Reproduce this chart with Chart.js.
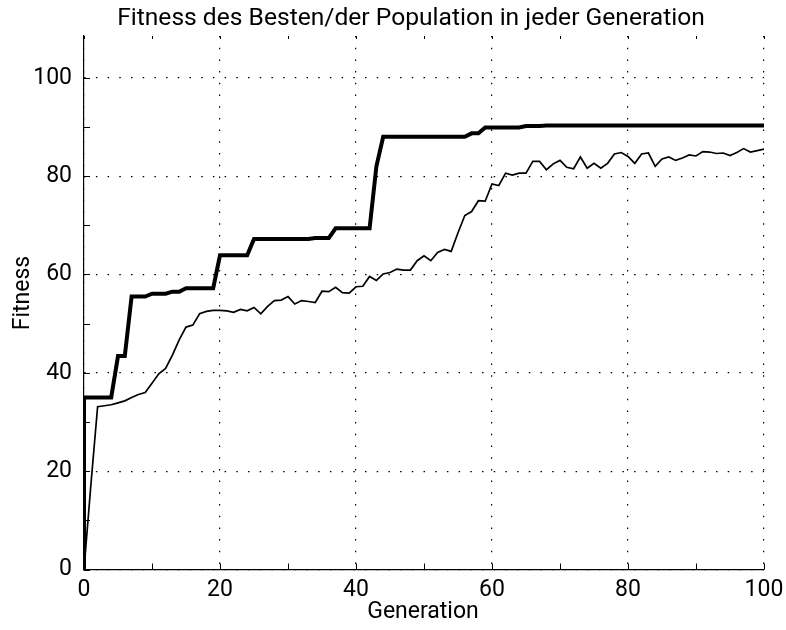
<!DOCTYPE html>
<html>
<head>
<meta charset="utf-8">
<script src="https://cdn.jsdelivr.net/npm/chart.js@4.4.1/dist/chart.umd.min.js"></script>
<style>
  html, body { margin: 0; padding: 0; background: #fff; }
</style>
</head>
<body>
<canvas id="fitChart" width="786" height="630"></canvas>
<script>
/* Fitness chart: best vs. population per generation */
const TITLE = 'Fitness des Besten/der Population in jeder Generation';
const X_TITLE = 'Generation';
const Y_TITLE = 'Fitness';

const xTicks = [0, 20, 40, 60, 80, 100];
const yTicks = [0, 20, 40, 60, 80, 100];
const xMinor = [10, 30, 50, 70, 90];
const yMinor = [10, 30, 50, 70, 90];

// fitness before the first generation
const startFitness = 0;

// best individual, generation 0..100
const bestFitness = [
  35, 35, 35, 35, 35, 43.4, 43.4, 55.5, 55.5, 55.5,
  56.1, 56.1, 56.1, 56.5, 56.5, 57.2, 57.2, 57.2, 57.2, 57.2,
  63.9, 63.9, 63.9, 63.9, 63.9, 67.2, 67.2, 67.2, 67.2, 67.2,
  67.2, 67.2, 67.2, 67.2, 67.4, 67.4, 67.4, 69.4, 69.4, 69.4,
  69.4, 69.4, 69.4, 82, 88, 88, 88, 88, 88, 88,
  88, 88, 88, 88, 88, 88, 88, 88.7, 88.7, 89.9,
  89.9, 89.9, 89.9, 89.9, 89.9, 90.2, 90.2, 90.2, 90.3, 90.3,
  90.3, 90.3, 90.3, 90.3, 90.3, 90.3, 90.3, 90.3, 90.3, 90.3,
  90.3, 90.3, 90.3, 90.3, 90.3, 90.3, 90.3, 90.3, 90.3, 90.3,
  90.3, 90.3, 90.3, 90.3, 90.3, 90.3, 90.3, 90.3, 90.3, 90.3,
  90.3
];

// population average, generation 0..100
const avgFitness = [
  0, 17, 33.1, 33.3, 33.5, 33.9, 34.3, 35.0, 35.6, 36.0,
  37.9, 39.8, 40.9, 43.6, 46.7, 49.3, 49.7, 52.0, 52.5, 52.7,
  52.7, 52.6, 52.3, 52.9, 52.6, 53.3, 52.0, 53.5, 54.7, 54.8,
  55.5, 54.0, 54.7, 54.5, 54.3, 56.6, 56.5, 57.4, 56.3, 56.2,
  57.5, 57.6, 59.6, 58.8, 60.1, 60.4, 61.1, 60.9, 60.9, 62.8,
  63.8, 62.8, 64.5, 65.1, 64.7, 68.5, 72.0, 72.8, 75.0, 74.9,
  78.4, 78.1, 80.6, 80.2, 80.6, 80.6, 83.0, 83.0, 81.3, 82.5,
  83.2, 81.8, 81.5, 83.9, 81.6, 82.6, 81.6, 82.6, 84.5, 84.8,
  84.0, 82.6, 84.5, 84.7, 82.0, 83.5, 83.9, 83.2, 83.7, 84.3,
  84.1, 85.0, 84.9, 84.6, 84.7, 84.2, 84.8, 85.6, 84.9, 85.2,
  85.5
];

const FONT = 'Roboto, "DejaVu Sans", sans-serif';
const FONT_SIZE = 23;

const bestPoints = [{ x: 0, y: startFitness }].concat(bestFitness.map((v, i) => ({ x: i, y: v })));
const avgPoints = avgFitness.map((v, i) => ({ x: i, y: v }));

// inward ticks, top ticks and the text around the plot
const decor = {
  id: 'decor',
  afterDraw(chart) {
    const { ctx, chartArea: a, scales: { x, y } } = chart;
    ctx.save();
    ctx.strokeStyle = '#000';
    ctx.lineWidth = 1;
    ctx.beginPath();
    xTicks.concat(xMinor).forEach(v => {
      const px = Math.round(x.getPixelForValue(v)) + 0.5;
      ctx.moveTo(px, a.bottom); ctx.lineTo(px, a.bottom - 6);
      ctx.moveTo(px, a.top); ctx.lineTo(px, a.top + 3);
    });
    yTicks.concat(yMinor).forEach(v => {
      const py = Math.round(y.getPixelForValue(v)) + 0.5;
      ctx.moveTo(a.left, py); ctx.lineTo(a.left + 6, py);
    });
    ctx.stroke();

    ctx.fillStyle = '#000';
    ctx.textAlign = 'center';
    ctx.textBaseline = 'middle';
    ctx.font = '24.6px ' + FONT;
    ctx.fillText(TITLE, 411, 19);
    ctx.font = FONT_SIZE + 'px ' + FONT;
    ctx.fillText(X_TITLE, 423, 612);
    ctx.translate(23, 293);
    ctx.rotate(-Math.PI / 2);
    ctx.fillText(Y_TITLE, 0, 0);
    ctx.restore();
  }
};

const gridOpts = { color: '#000', lineWidth: 1.2, drawTicks: false };
const borderOpts = { display: true, color: '#000', width: 1.2, dash: [1.5, 10.2] };

new Chart(document.getElementById('fitChart'), {
  type: 'line',
  data: {
    datasets: [
      { label: 'Bester', data: bestPoints, borderColor: '#000', borderWidth: 4, pointRadius: 0, tension: 0 },
      { label: 'Population', data: avgPoints, borderColor: '#000', borderWidth: 1.7, pointRadius: 0, tension: 0 }
    ]
  },
  options: {
    responsive: false,
    animation: false,
    devicePixelRatio: 1,
    layout: { padding: { top: 36, right: 22, left: 0, bottom: 0 } },
    plugins: { legend: { display: false }, title: { display: false }, tooltip: { enabled: false } },
    scales: {
      x: {
        type: 'linear', min: 0, max: 100,
        afterBuildTicks: s => { s.ticks = xTicks.map(v => ({ value: v })); },
        afterFit: s => { s.height = 60.5; s.paddingLeft = 0; s.paddingRight = 0; },
        ticks: { color: '#000', font: { family: FONT, size: FONT_SIZE }, padding: 7, maxRotation: 0 },
        grid: gridOpts,
        border: borderOpts
      },
      y: {
        type: 'linear', min: 0, max: 108.5,
        afterBuildTicks: s => { s.ticks = yTicks.map(v => ({ value: v })); },
        afterFit: s => { s.width = 84; s.paddingTop = 0; s.paddingBottom = 0; },
        ticks: { color: '#000', font: { family: FONT, size: FONT_SIZE }, padding: 12 },
        grid: gridOpts,
        border: borderOpts
      }
    }
  },
  plugins: [decor]
});
</script>
</body>
</html>
